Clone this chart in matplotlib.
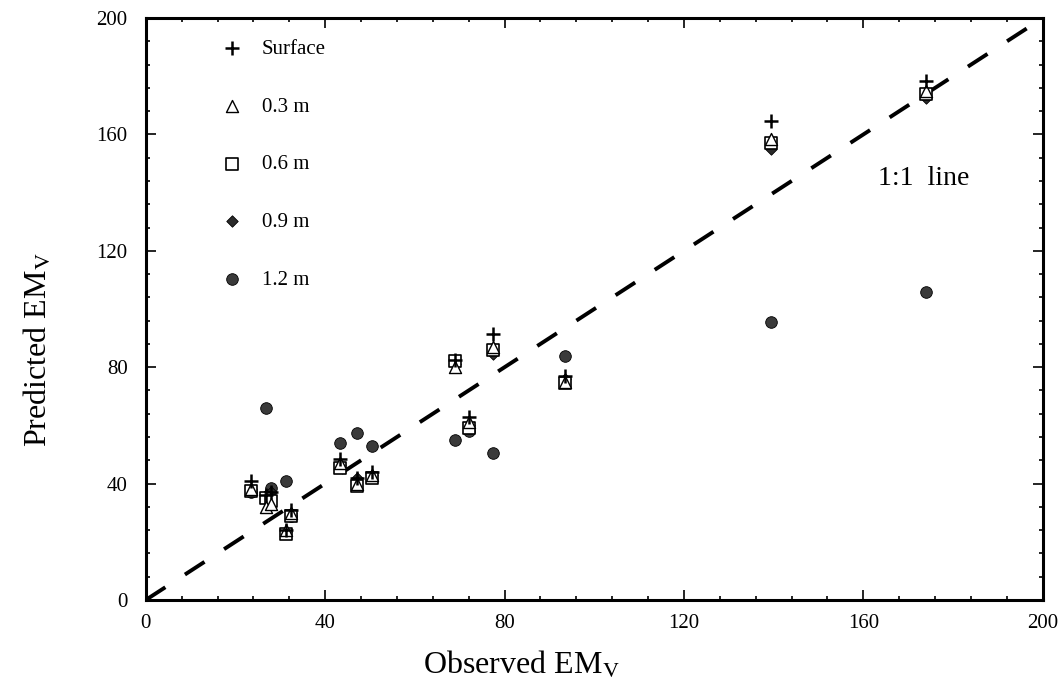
import matplotlib
matplotlib.use("Agg")
import matplotlib.pyplot as plt
from matplotlib.ticker import MultipleLocator

plt.rcParams['font.family'] = ['Liberation Serif', 'DejaVu Serif']
plt.rcParams['mathtext.fontset'] = 'stix'

# Observed EMv for each observation
observed = [23.5, 26.8, 28.0, 31.3, 32.3, 43.2, 47.0, 50.5, 69.0, 72.0, 77.5, 93.5, 139.5, 174.0]

# Predicted EMv by depth
surface = [41.0, 36.0, 37.0, 24.0, 31.0, 48.5, 42.0, 44.0, 82.5, 63.0, 91.5, 77.0, 164.5, 178.5]
d03 = [38.0, 32.0, 33.0, 24.0, 30.0, 47.0, 40.0, 43.0, 80.0, 61.0, 87.0, 75.0, 158.5, 175.0]
d06 = [37.5, 35.0, 34.0, 22.5, 29.0, 45.5, 39.0, 42.0, 82.0, 59.0, 86.0, 74.5, 157.0, 174.0]
d09 = [38.0, 36.0, 37.0, 23.5, 30.0, 46.5, 42.0, 43.0, 81.0, 60.0, 84.5, 76.0, 155.0, 172.5]
d12 = [37.0, 66.0, 38.5, 41.0, 29.0, 54.0, 57.5, 53.0, 55.0, 58.0, 50.5, 84.0, 95.5, 106.0]

labels = ["Surface", "0.3 m", "0.6 m", "0.9 m", "1.2 m"]
line_xy = [0, 200]

fig = plt.figure(figsize=(10.64, 6.96), dpi=100)
ax = fig.add_axes([0.137, 0.138, 0.843, 0.836])

ax.plot(line_xy, line_xy, color='black', lw=2.8, linestyle=(0, (6, 6)), zorder=1)

ax.scatter(observed, d12, marker='o', s=70, facecolor='#3a3a3a', edgecolor='black', linewidth=0.6, label=labels[4], zorder=2)
ax.scatter(observed, d09, marker='D', s=34, facecolor='#2a2a2a', edgecolor='black', linewidth=0.6, label=labels[3], zorder=3)
ax.scatter(observed, d06, marker='s', s=70, facecolor='white', edgecolor='black', linewidth=1.2, label=labels[2], zorder=4)
ax.scatter(observed, d03, marker='^', s=75, facecolor='white', edgecolor='black', linewidth=1.0, label=labels[1], zorder=5)
ax.scatter(observed, surface, marker='+', s=95, color='black', linewidth=1.8, label=labels[0], zorder=6)

handles, labs = ax.get_legend_handles_labels()
order = [4, 3, 2, 1, 0]
leg = ax.legend([handles[i] for i in order], [labs[i] for i in order],
                loc='upper left', bbox_to_anchor=(0.0635, 0.978), frameon=False,
                fontsize=15, labelspacing=1.83, handletextpad=0.45, scatterpoints=1,
                borderaxespad=0.0)

ax.text(0.816, 0.725, "1:1  line", transform=ax.transAxes, fontsize=20, ha='left', va='center')

ax.set_xlim(0, 200)
ax.set_ylim(0, 200)
ax.xaxis.set_major_locator(MultipleLocator(40))
ax.yaxis.set_major_locator(MultipleLocator(40))
ax.xaxis.set_minor_locator(MultipleLocator(8))
ax.yaxis.set_minor_locator(MultipleLocator(8))
ax.tick_params(which='both', direction='in', top=True, right=True, labelsize=15, width=1.2, colors='black')
ax.tick_params(which='major', length=7)
ax.tick_params(axis='x', which='major', pad=10)
ax.tick_params(axis='y', which='major', pad=13)
ax.tick_params(which='minor', length=3)
for sp in ax.spines.values():
    sp.set_linewidth(2.2)

ax.set_xlabel(r"Observed EM$_{\mathrm{V}}$", fontsize=23)
ax.set_ylabel(r"Predicted EM$_{\mathrm{V}}$", fontsize=23)
ax.xaxis.set_label_coords(0.419, -0.085)
ax.yaxis.set_label_coords(-0.103, 0.43)

fig.savefig("out.png", dpi=100)
